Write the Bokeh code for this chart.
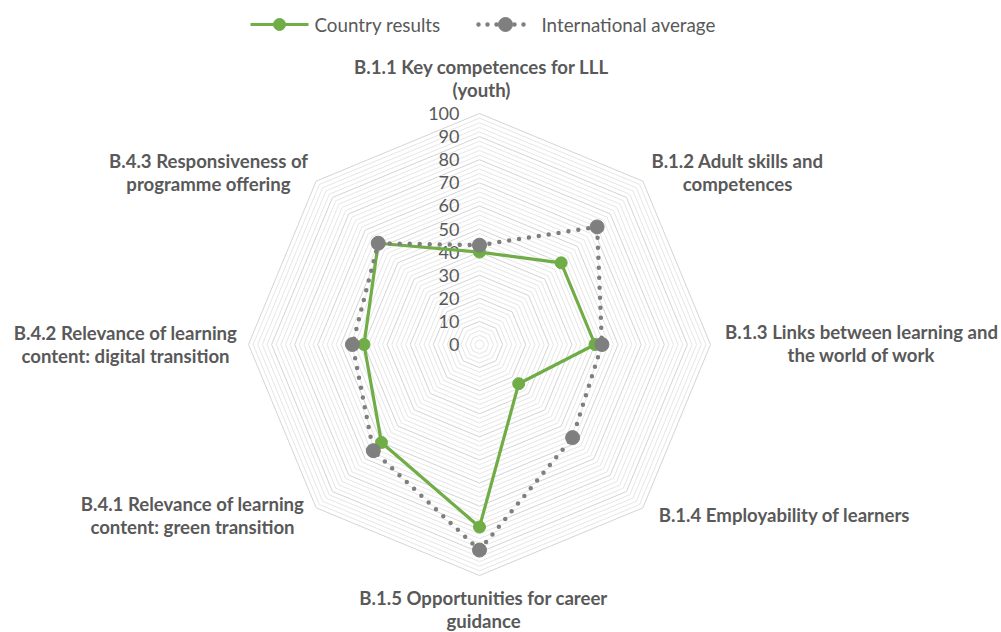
import math
from bokeh.plotting import figure
from bokeh.models import Range1d
from bokeh.core.properties import value
from bokeh.embed import file_html
from bokeh.resources import INLINE

# ---- data ----
categories = [
    "B.1.1 Key competences for LLL\n(youth)",
    "B.1.2 Adult skills and\ncompetences",
    "B.1.3 Links between learning and\nthe world of work",
    "B.1.4 Employability of learners",
    "B.1.5 Opportunities for career\nguidance",
    "B.4.1 Relevance of learning\ncontent: green transition",
    "B.4.2 Relevance of learning\ncontent: digital transition",
    "B.4.3 Responsiveness of\nprogramme offering",
]
country_results = [40, 50, 50, 24, 79, 60, 50, 62]
international_average = [43, 72, 53, 57, 89, 65, 55, 62]
tick_values = [0, 10, 20, 30, 40, 50, 60, 70, 80, 90, 100]
series_names = ["Country results", "International average"]

# ---- layout (pixel space) ----
W, H = 1001, 632
cx, cy = 479, 344
k = 2.31  # px per unit
FONT = "Lato"
TXT = "#595959"
GREEN = "#70AD47"
GRAY = "#7F7F7F"

n = len(categories)
angles = [2 * math.pi * i / n for i in range(n)]

def to_xy(vals):
    xs = [cx + k * v * math.sin(a) for v, a in zip(vals, angles)]
    ys = [cy - k * v * math.cos(a) for v, a in zip(vals, angles)]
    return xs, ys

p = figure(width=W, height=H, x_range=Range1d(0, W), y_range=Range1d(H, 0),
           x_axis_type=None, y_axis_type=None, toolbar_location=None,
           output_backend="svg", min_border=0, outline_line_color=None,
           background_fill_color="white", border_fill_color="white")
p.grid.visible = False

# grid rings
minor_x, minor_y, major_x, major_y = [], [], [], []
for v in range(2, 101, 2):
    xs, ys = to_xy([v] * n)
    xs.append(xs[0]); ys.append(ys[0])
    if v % 10 == 0:
        major_x.append(xs); major_y.append(ys)
    else:
        minor_x.append(xs); minor_y.append(ys)
p.multi_line(minor_x, minor_y, line_color="#E6E6E6", line_width=1)
p.multi_line(major_x, major_y, line_color="#D4D4D4", line_width=1)

# tick labels
p.text(x=[cx - 20] * len(tick_values), y=[cy - k * t for t in tick_values],
       text=[str(t) for t in tick_values], text_align="right", text_baseline="middle",
       text_font=value(FONT), text_font_size="18px", text_color=TXT)

# series
gx, gy = to_xy(country_results)
p.line(gx + [gx[0]], gy + [gy[0]], line_color=GREEN, line_width=3.2)
p.scatter(gx, gy, size=12, fill_color=GREEN, line_color=GREEN)

ax, ay = to_xy(international_average)
p.line(ax + [ax[0]], ay + [ay[0]], line_color=GRAY, line_width=4.5,
       line_dash="0 10", line_cap="round")
p.scatter(ax, ay, size=14, fill_color=GRAY, line_color=GRAY)

# category labels
label_pos = [(481, 66), (737, 160), (861, 331), (784, 514), (483, 597),
             (192, 503), (125, 332), (208, 160)]
lx, ly, lt = [], [], []
for (x, y), c in zip(label_pos, categories):
    for j, line in enumerate(c.split("\n")):
        lx.append(x); ly.append(y + 23 * j); lt.append(line)
p.text(x=lx, y=ly, text=lt, text_align="center", text_baseline="middle",
       text_font=value(FONT), text_font_style="bold", text_font_size="18.6px",
       text_color=TXT)

# legend
p.line([250, 308], [24, 24], line_color=GREEN, line_width=3.2)
p.scatter([279], [24], size=12, fill_color=GREEN, line_color=GREEN)
p.line([478, 532], [24, 24], line_color=GRAY, line_width=4.5, line_dash="0 9",
       line_cap="round")
p.scatter([505], [24], size=14, fill_color=GRAY, line_color=GRAY)
p.text(x=[314, 541], y=[24, 24], text=series_names, text_align="left",
       text_baseline="middle", text_font=value(FONT), text_font_size="18.8px",
       text_color=TXT)

open("out.html", "w").write(file_html(p, INLINE))
